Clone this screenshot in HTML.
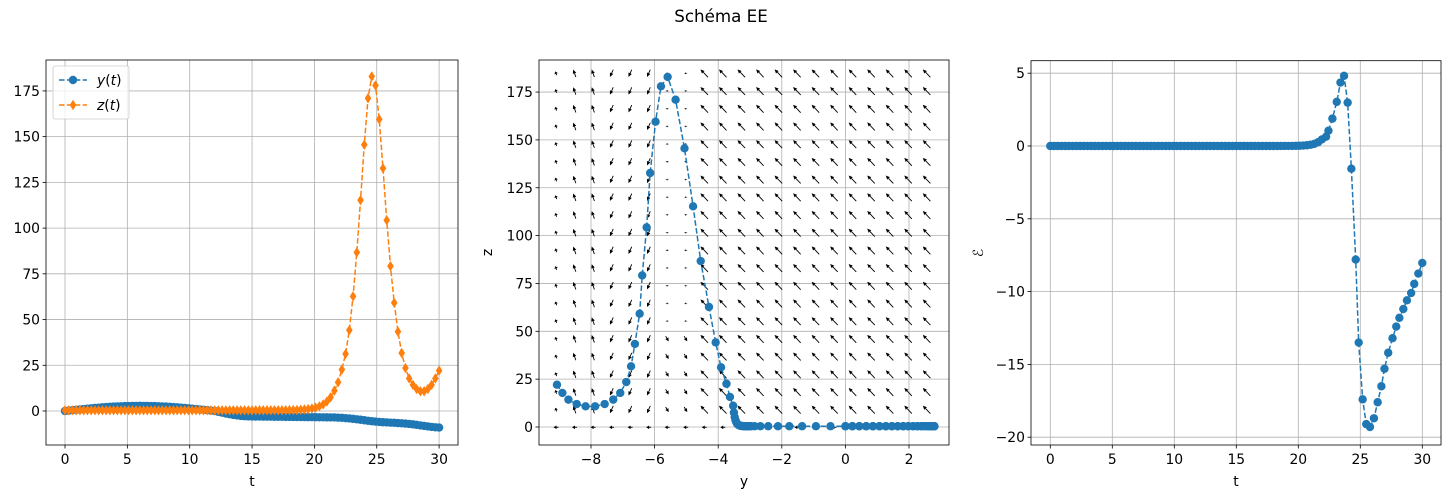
<!DOCTYPE html>
<html><head><meta charset="utf-8"><style>
body{margin:0;background:#fff;}
svg{display:block;font-family:"DejaVu Sans","Liberation Sans",sans-serif;}
</style></head><body>
<svg id="s" width="1451" height="498" xmlns="http://www.w3.org/2000/svg">
<text x="721" y="22" font-size="16.7" text-anchor="middle">Schéma EE</text>
</svg>
<script>
const S=document.getElementById('s');const NS='http://www.w3.org/2000/svg';
function el(t,a,txt){const e=document.createElementNS(NS,t);for(const k in a)e.setAttribute(k,a[k]);if(txt!==undefined)e.textContent=txt;S.appendChild(e);return e;}
const B='#1f77b4',O='#ff7f0e',FS=13.9;
function axes(x0,y0,x1,y1,xt,yt,fx,fy,xl,yl,ylx,ylit){
 xt.forEach(v=>{const p=fx(v);el('line',{x1:p,y1:y0,x2:p,y2:y1,stroke:'#b0b0b0','stroke-width':0.8});el('line',{x1:p,y1:y1,x2:p,y2:y1+3.5,stroke:'#000','stroke-width':0.8});el('text',{x:p,y:y1+19,'font-size':FS,'text-anchor':'middle'},v<0?'−'+(-v):v);});
 yt.forEach(v=>{const p=fy(v);el('line',{x1:x0,y1:p,x2:x1,y2:p,stroke:'#b0b0b0','stroke-width':0.8});el('line',{x1:x0-3.5,y1:p,x2:x0,y2:p,stroke:'#000','stroke-width':0.8});el('text',{x:x0-6,y:p+5,'font-size':FS,'text-anchor':'end'},v<0?'−'+(-v):v);});
 el('text',{x:(x0+x1)/2,y:486,'font-size':FS,'text-anchor':'middle'},xl);
 el('text',{x:ylx,y:(y0+y1)/2,'font-size':FS,'text-anchor':'middle',transform:`rotate(-90 ${ylx} ${(y0+y1)/2})`,'font-style':ylit?'italic':'normal'},yl);
}
function frame(x0,y0,x1,y1){el('rect',{x:x0,y:y0,width:x1-x0,height:y1-y0,fill:'none',stroke:'#000','stroke-width':0.8});}
function series(pts,col,mk){
 el('polyline',{points:pts.map(p=>p.join(',')).join(' '),fill:'none',stroke:col,'stroke-width':1.5,'stroke-dasharray':'5.5,2.4'});
 pts.forEach(p=>{if(mk==='o')el('circle',{cx:p[0],cy:p[1],r:4.2,fill:col});else el('path',{d:`M${p[0]},${p[1]-5.2}L${p[0]+3.3},${p[1]}L${p[0]},${p[1]+5.2}L${p[0]-3.3},${p[1]}z`,fill:col});});
}
const ty=[[21.6,-3.53,11.1],[21.9,-3.63,15.7],[22.2,-3.74,22.6],[22.5,-3.91,31.2],[22.8,-4.08,44.2],[23.1,-4.29,62.7],[23.4,-4.55,86.7],[23.7,-4.79,115.3],[24.0,-5.06,145.6],[24.3,-5.34,171],[24.6,-5.59,182.9],[24.9,-5.80,178],[25.2,-5.97,159.5],[25.5,-6.14,132.7],[25.8,-6.25,104.3],[26.1,-6.39,79.2],[26.4,-6.47,59.2],[26.7,-6.62,43.4],[27.0,-6.74,31.7],[27.3,-6.89,23.5],[27.6,-7.08,17.8],[27.9,-7.30,14.3],[28.2,-7.57,12.0],[28.5,-7.87,10.8],[28.8,-8.17,10.8],[29.1,-8.45,12.0],[29.4,-8.71,14.3],[29.7,-8.9,17.8],[30.0,-9.07,22.1]];
const T=[],Y=[],Z=[];
for(let i=0;i<72;i++){const t=i*0.3;let y;
 if(t<=12)y=2.8*Math.sin(Math.PI*t/12);else if(t<=15)y=-3*Math.sin(Math.PI/2*(t-12)/3);else y=-3-0.53*(t-15)/6.6;
 let z=0.4+10.6*Math.exp((t-21.6)/0.75);T.push(t);Y.push(y);Z.push(z);}
ty.forEach(r=>{T.push(r[0]);Y.push(r[1]);Z.push(r[2]);});
const lx=t=>65+12.47*t, ly=v=>411-1.829*v;
axes(46,60,458,445,[0,5,10,15,20,25,30],[0,25,50,75,100,125,150,175],lx,ly,'t','',0);
series(T.map((t,i)=>[lx(t),ly(Y[i])]),B,'o');
series(T.map((t,i)=>[lx(t),ly(Z[i])]),O,'d');
frame(46,60,458,445);
el('rect',{x:53,y:66,width:76,height:53,rx:2,fill:'#fff',stroke:'#ccc','stroke-width':0.8,'fill-opacity':0.8});
el('line',{x1:59,y1:80,x2:87,y2:80,stroke:B,'stroke-width':1.5,'stroke-dasharray':'5.5,2.4'});el('circle',{cx:73,cy:80,r:4.2,fill:B});
el('line',{x1:59,y1:105,x2:87,y2:105,stroke:O,'stroke-width':1.5,'stroke-dasharray':'5.5,2.4'});el('path',{d:'M73,99.8L76.3,105L73,110.2L69.7,105z',fill:O});
el('text',{x:97,y:85,'font-size':FS},'').innerHTML='<tspan font-style="italic">y</tspan>(<tspan font-style="italic">t</tspan>)';
el('text',{x:97,y:110,'font-size':FS},'').innerHTML='<tspan font-style="italic">z</tspan>(<tspan font-style="italic">t</tspan>)';
const mx=v=>591+(v+8)*31.8, mz=v=>427-1.914*v;
axes(539,60,949,445,[-8,-6,-4,-2,0,2],[0,25,50,75,100,125,150,175],mx,mz,'y','z',492,0);
for(let i=0;i<21;i++)for(let j=0;j<21;j++){
 const cx=556+i*18.53, cy=73.3+j*17.7;let dx,dy,L;
 if(j===20){dx=-1;dy=0;L=5;}
 else if(i<=2){dx=-0.35;dy=-1;L=i===0?4:8;}
 else if(i<=5){dx=-0.45;dy=1;L=8;}
 else if(i<=7){dx=0;dy=-1;L=j>14?6:1.5;if(j>14){dx=0.6;dy=1;}}
 else{dx=-0.95;dy=-1;L=11;}
 const n=Math.hypot(dx,dy);dx/=n;dy/=n;
 const ax=cx-dx*L/2,ay=cy-dy*L/2,bx=cx+dx*L/2,by=cy+dy*L/2;
 const hl=Math.min(4,L*0.6),hw=1.8,px=-dy,py=dx;
 const hx=bx-dx*hl,hy=by-dy*hl;
 el('line',{x1:ax,y1:ay,x2:hx,y2:hy,stroke:'#000','stroke-width':0.9});
 el('polygon',{points:`${bx},${by} ${hx+px*hw},${hy+py*hw} ${hx-px*hw},${hy-py*hw}`,fill:'#000'});
}
series(T.map((t,i)=>[mx(Y[i]),mz(Z[i])]),B,'o');
frame(539,60,949,445);
const rx=t=>1050.3+12.4*t, ry=v=>146-14.56*v;
axes(1031,60.7,1441,445,[0,5,10,15,20,25,30],[5,0,-5,-10,-15,-20],rx,ry,'t','ℰ',983,1);
const E=[];for(let i=0;i<=73;i++){const t=i*0.3;E.push([t,0.45*Math.exp((t-21.9)/0.55)]);}
[[22.24,0.64],[22.43,1.05],[22.75,1.88],[23.1,3.03],[23.4,4.36],[23.69,4.82],[23.98,2.98],[24.28,-1.56],[24.63,-7.8],[24.87,-13.5],[25.19,-17.4],[25.48,-19.1],[25.78,-19.3],[26.1,-18.7],[26.4,-17.6],[26.7,-16.5],[26.95,-15.3],[27.25,-14.2],[27.6,-13.2],[27.9,-12.4],[28.15,-11.8],[28.47,-11.2],[28.76,-10.6],[29.1,-10.1],[29.35,-9.47],[29.68,-8.76],[30.0,-8.03]].forEach(p=>E.push(p));
series(E.map(p=>[rx(p[0]),ry(p[1])]),B,'o');
frame(1031,60.7,1441,445);
</script>
</body></html>
